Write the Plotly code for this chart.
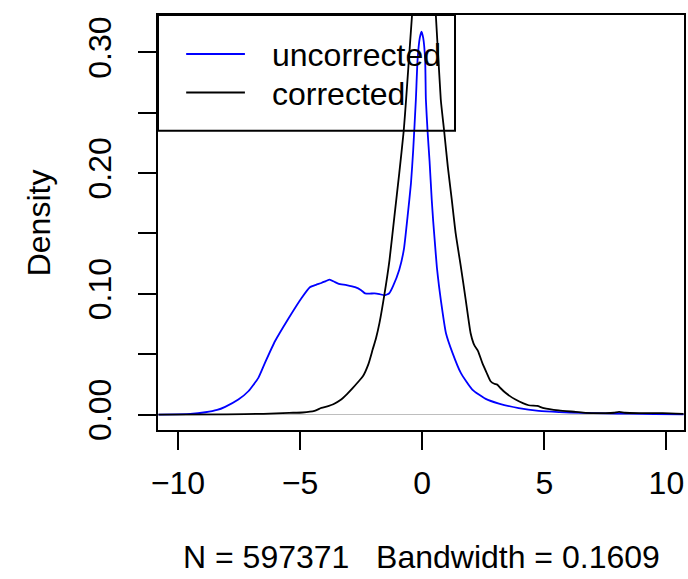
import plotly.graph_objects as go

# uncorrected density (blue)
unc_x = [-10.8, -9.5, -8.88, -8.4, -8.07, -7.53, -7.12, -6.71, -6.44, -6.03, -5.49, -4.94,
         -4.6, -4.35, -4.13, -3.95, -3.79, -3.6, -3.44, -3.1, -2.75, -2.5, -2.34, -2.15,
         -1.96, -1.75, -1.55, -1.35, -1.2, -0.94, -0.75, -0.6, -0.46, -0.37, -0.26, -0.19,
         -0.1, -0.03, 0.04, 0.12, 0.15, 0.22, 0.3, 0.39, 0.45, 0.52, 0.6, 0.69, 0.76, 0.97,
         1.24, 1.58, 2.05, 2.6, 3.14, 3.95, 4.77, 5.6, 6.5, 7.5, 8.5, 9.5, 10.7]
unc_y = [0.0, 0.0006, 0.0019, 0.0038, 0.0064, 0.0124, 0.0193, 0.0304, 0.0428, 0.0607, 0.0792, 0.0966,
         0.1055, 0.1075, 0.109, 0.1105, 0.1118, 0.110, 0.1085, 0.1072, 0.1055, 0.103, 0.1004, 0.1002,
         0.1004, 0.0998, 0.0988, 0.1005, 0.1062, 0.12, 0.137, 0.164, 0.1918, 0.219, 0.261, 0.294,
         0.312, 0.3173, 0.312, 0.294, 0.261, 0.2345, 0.21, 0.178, 0.16, 0.142, 0.122, 0.106, 0.0952, 0.0676,
         0.0511, 0.0345, 0.0207, 0.013, 0.0091, 0.0053, 0.0030, 0.0020, 0.0014, 0.0010, 0.0007, 0.0004, 0.0001]

# corrected density (black)
cor_x = [-10.8, -8.0, -6.5, -5.45, -4.9, -4.41, -4.13, -3.85, -3.64, -3.35, -3.08, -2.84, -2.6,
         -2.43, -2.2, -2.03, -1.89, -1.75, -1.55, -1.34, -1.14, -0.94, -0.76, -0.66, -0.42, -0.2,
         0.07, 0.35, 0.56, 0.76, 0.9, 1.05, 1.21, 1.37, 1.58, 1.78, 1.98, 2.1, 2.16, 2.29, 2.46,
         2.63, 2.80, 2.95, 3.07, 3.2, 3.41, 3.82, 4.36, 4.71, 4.98, 5.59, 6.28, 6.69, 7.51, 7.85,
         8.06, 8.3, 8.88, 9.84, 10.7]
cor_y = [0.0, 0.0002, 0.0006, 0.0014, 0.0017, 0.003, 0.0055, 0.007, 0.0085, 0.012, 0.017, 0.0221, 0.0276,
         0.0317, 0.042, 0.0538, 0.0635, 0.0759, 0.0993, 0.128, 0.164, 0.2, 0.2345, 0.261, 0.33, 0.385,
         0.42, 0.385, 0.33, 0.261, 0.2345, 0.205, 0.178, 0.15, 0.1228, 0.0952, 0.0676, 0.059, 0.0565, 0.0524, 0.0428,
         0.035, 0.0276, 0.0255, 0.0248, 0.022, 0.018, 0.0124, 0.0077, 0.0072, 0.0053, 0.0034, 0.0022, 0.0014, 0.0012, 0.0015,
         0.0022, 0.0015, 0.0012, 0.0012, 0.0006]

x_ticks = [-10, -5, 0, 5, 10]
y_ticks = [0.0, 0.05, 0.10, 0.15, 0.20, 0.25, 0.30]
y_ticktext = ["0.00", "", "0.10", "", "0.20", "", "0.30"]
legend_labels = ["uncorrected", "corrected"]
legend_colors = ["#0000FF", "#000000"]
x_title = "N = 597371\u00a0\u00a0\u00a0Bandwidth = 0.1609"
y_title = "Density"

FONT = "Liberation Sans, Arial, Helvetica, sans-serif"
FS = 32

fig = go.Figure()
fig.add_trace(go.Scatter(x=unc_x, y=unc_y, mode="lines",
                         line=dict(color=legend_colors[0], width=1.8, shape="spline", smoothing=0.5),
                         showlegend=False, hoverinfo="skip"))
fig.add_trace(go.Scatter(x=cor_x, y=cor_y, mode="lines",
                         line=dict(color=legend_colors[1], width=1.8, shape="spline", smoothing=0.5),
                         showlegend=False, hoverinfo="skip"))

W, H = 688, 579
L, R, T, B = 157.7, 2, 15, 148.5
pw, ph = W - L - R, H - T - B

def px(xp):
    return (xp - L) / pw

def py(yp):
    return (H - B - yp) / ph

shapes = [dict(type="rect", xref="paper", yref="paper", x0=0, x1=px(456), y0=py(131), y1=1,
               line=dict(color="black", width=2), fillcolor="rgba(0,0,0,0)", layer="above")]
annotations = []
for i, (lab, col) in enumerate(zip(legend_labels, legend_colors)):
    yy = [54, 92.7][i]
    shapes.append(dict(type="line", xref="paper", yref="paper", x0=px(186), x1=px(245),
                       y0=py(yy), y1=py(yy), line=dict(color=col, width=2)))
    annotations.append(dict(text=lab, xref="paper", yref="paper", x=px(270), y=py(yy + 1),
                            xanchor="left", yanchor="middle", showarrow=False,
                            font=dict(family=FONT, size=FS, color="black")))

annotations.append(dict(text=x_title, xref="paper", yref="paper", x=0.5, y=py(558),
                        xanchor="center", yanchor="middle", showarrow=False,
                        font=dict(family=FONT, size=FS, color="black")))
annotations.append(dict(text=y_title, xref="paper", yref="paper", x=px(38), y=0.5,
                        xanchor="center", yanchor="middle", showarrow=False, textangle=-90,
                        font=dict(family=FONT, size=FS, color="black")))

fig.update_layout(
    width=W, height=H,
    margin=dict(l=L, r=R, t=T, b=B, pad=0),
    paper_bgcolor="white", plot_bgcolor="white",
    font=dict(family=FONT, size=FS, color="black"),
    shapes=shapes, annotations=annotations,
    showlegend=False,
)
fig.update_xaxes(range=[-10.82, 10.72], tickvals=x_ticks, ticks="outside", ticklen=18, tickwidth=2,
                 tickcolor="black", showline=True, linecolor="black", linewidth=2, mirror=True,
                 showgrid=False, zeroline=False, ticklabelstandoff=6,
                 tickfont=dict(family=FONT, size=FS, color="black"))
fig.update_yaxes(range=[-0.0128, 0.331], tickvals=y_ticks, ticktext=y_ticktext, ticks="outside",
                 ticklen=18, tickwidth=2, tickcolor="black", showline=True, linecolor="black",
                 linewidth=2, mirror=True, showgrid=False, zeroline=True, zerolinecolor="#bebebe",
                 zerolinewidth=1, tickangle=-90, ticklabelstandoff=14,
                 tickfont=dict(family=FONT, size=FS, color="black"))

fig.write_html("out.html", config={"displayModeBar": False},
               post_script="document.body.style.margin='0px';")
